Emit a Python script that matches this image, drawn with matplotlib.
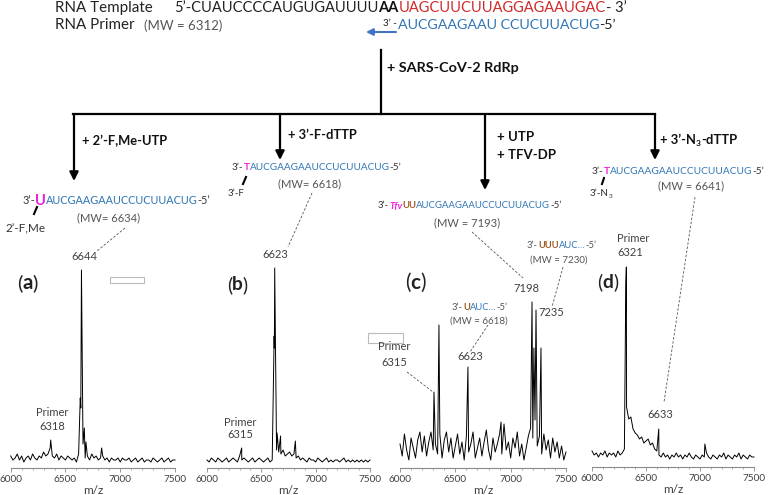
import matplotlib.pyplot as plt
import numpy as np
from matplotlib.patches import Rectangle

plt.rcParams['font.family'] = ['Lato', 'DejaVu Sans']

BLUE = '#2f75b5'
RED = '#d12a2a'
MAG = '#f21fe0'
BROWN = '#a05a22'
GRAY = '#555555'
DARK = '#333333'

# --- spectra: baseline read every 20 m/z, plus the peaks ---
mz_grid = np.arange(6000, 7501, 20)

noise_a = [6, 4, 5, 7, 4, 6, 3, 5, 6, 4,
           7, 5, 4, 6, 5, 8, 6, 7, 10, 6,
           5, 7, 4, 6, 5, 4, 6, 5, 4, 5,
           3, 7, 30, 12, 5, 6, 4, 7, 5, 6,
           4, 5, 6, 4, 5, 3, 5, 4, 4, 5,
           3, 5, 4, 4, 5, 3, 4, 5, 3, 4,
           5, 3, 4, 4, 3, 5, 4, 3, 4, 5,
           3, 4, 5, 3, 4, 4]
peak_mz_a = [6365, 6635, 6646, 6672, 6687, 6830]
peak_int_a = [14, 35, 99, 20, 13, 10]

noise_b = [4, 3, 5, 4, 3, 5, 4, 3, 4, 5,
           3, 4, 5, 4, 3, 6, 4, 5, 4, 3,
           4, 5, 3, 4, 5, 4, 3, 4, 5, 3,
           4, 60, 9, 8, 7, 9, 6, 7, 8, 6,
           7, 5, 6, 4, 5, 4, 3, 5, 4, 4,
           3, 5, 4, 3, 4, 5, 3, 4, 3, 4,
           4, 3, 4, 5, 3, 4, 3, 4, 3, 4,
           3, 4, 3, 4, 3, 4]
peak_mz_b = [6319, 6618, 6623, 6645, 6677, 6813]
peak_int_b = [10, 66, 100, 17.5, 16, 13.5]

noise_c = [12, 6, 17, 9, 4, 15, 10, 5, 14, 18,
           8, 16, 6, 13, 18, 9, 12, 7, 17, 5,
           14, 18, 8, 15, 5, 11, 17, 7, 13, 4,
           16, 8, 12, 18, 5, 10, 15, 6, 13, 19,
           9, 4, 15, 8, 12, 17, 7, 22, 9, 13,
           5, 15, 10, 18, 6, 12, 4, 10, 16, 20,
           15, 24, 11, 16, 7, 17, 9, 14, 5, 15,
           8, 13, 5, 11, 4, 8]
peak_mz_c = [6307, 6352, 6614, 6913, 7193, 7210, 7229, 7274]
peak_int_c = [38, 71.5, 50.5, 23, 83, 60, 79, 60]

noise_d = [8, 6, 7, 5, 7, 6, 8, 5, 7, 6,
           7, 5, 8, 6, 7, 9, 30, 24, 25, 19,
           17, 16, 14, 15, 12, 13, 14, 11, 12, 9,
           8, 6, 5, 7, 5, 6, 4, 6, 5, 7,
           5, 6, 4, 6, 5, 7, 5, 4, 6, 5,
           4, 6, 5, 7, 5, 4, 6, 5, 4, 6,
           5, 7, 4, 6, 5, 4, 6, 5, 7, 4,
           6, 5, 4, 6, 5, 5]
peak_mz_d = [6313, 6318, 6330, 6618, 7045]
peak_int_d = [91, 100, 27, 19, 11.5]

fig = plt.figure(figsize=(7.68, 4.95), dpi=100)
bg = fig.add_axes([0, 0, 1, 1])
bg.set_xlim(0, 768)
bg.set_ylim(495, 0)
bg.axis('off')
R = fig.canvas.get_renderer()


def P(s, c=DARK, b=False, i=False, sc=1.0, dy=0):
    return dict(s=s, c=c, b=b, i=i, sc=sc, dy=dy)


def _kw(p, size):
    return dict(fontsize=size * p['sc'], fontweight='bold' if p['b'] else 'normal',
                fontstyle='italic' if p['i'] else 'normal')


def pieces(x, y, parts, size, width=None, ha='left'):
    # draws coloured pieces one after another, optionally scaled to a pixel width
    def total(sz):
        w = 0
        for p in parts:
            t = bg.text(0, 0, p['s'], **_kw(p, sz))
            w += t.get_window_extent(R).width
            t.remove()
        return w
    if width:
        size = size * width / total(size)
    if ha == 'center':
        x = x - total(size) / 2
    cx = x
    for p in parts:
        t = bg.text(cx, y + p['dy'], p['s'], color=p['c'], va='center', ha='left', **_kw(p, size))
        cx += t.get_window_extent(R).width


def txt(x, y, s, size, width=None, color=DARK, bold=False, ha='left'):
    pieces(x, y, [P(s, color, bold)], size, width, ha)


def dash(x0, y0, x1, y1):
    bg.plot([x0, x1], [y0, y1], color=GRAY, lw=0.6, ls=(0, (3, 2)))


def arrow(x, y0, y1, color='k', lw=1.6):
    bg.annotate('', xy=(x, y1), xytext=(x, y0),
                arrowprops=dict(arrowstyle='-|>', lw=lw, color=color,
                                mutation_scale=13, shrinkA=0, shrinkB=0))


# --- header ---
txt(55, 8, 'RNA Template', 10.5, 98, '#222222')
pieces(174, 8, [P('5’-CUAUCCCCAUGUGAUUUU', '#222222'), P('AA', '#111111', b=True),
                P('UAGCUUCUUAGGAGAAUGAC', RED), P('- 3’', '#222222')], 10.5, 453)
txt(55, 25, 'RNA Primer', 10.5, 80, '#222222')
txt(144, 26, '(MW = 6312)', 8.5, 78, GRAY)
txt(383, 24, '3’ -', 7, 14, '#222222')
pieces(398, 25, [P('AUCGAAGAAU CCUCUUACUG', BLUE), P('-5’', '#222222')], 10.5, 222)
bg.annotate('', xy=(366, 32), xytext=(396, 32),
            arrowprops=dict(arrowstyle='-|>', lw=1.5, color='#4472c4',
                            mutation_scale=10, shrinkA=0, shrinkB=0))

# --- reaction tree ---
bg.plot([381, 381], [50, 114], 'k', lw=1.6)
bg.plot([73, 655], [114, 114], 'k', lw=1.6, solid_capstyle='projecting')
arrow(74, 114, 181)
arrow(280, 114, 160)
arrow(485, 114, 190)
arrow(655, 114, 160)

txt(387, 68, '+ SARS-CoV-2 RdRp', 9.5, 133, '#111111', True)
txt(82, 141, '+ 2’-F,Me-UTP', 9.5, 86, '#111111', True)
txt(288, 135, '+ 3’-F-dTTP', 9.5, 69, '#111111', True)
txt(497, 137, '+ UTP', 9.5, None, '#111111', True)
txt(497, 155, '+ TFV-DP', 9.5, None, '#111111', True)
pieces(660, 140, [P('+ 3’-N', '#111111', True), P('3', '#111111', True, sc=0.65, dy=3),
                  P('-dTTP', '#111111', True)], 9.5, 77)

# --- products ---
seq = 'AUCGAAGAAUCCUCUUACUG'
pieces(22, 201, [P('3’-'), P('U', MAG, True, sc=1.35), P(seq, BLUE), P('-5’')], 8, 188)
txt(77, 218, '(MW= 6634)', 8, None, GRAY)
txt(5, 229, '2’-F,Me', 8, 40)
bg.plot([34, 37], [214, 207], 'k', lw=1.5)

pieces(232, 168, [P('3’-'), P('T', MAG, True), P(seq, BLUE), P('-5’')], 8, 168)
txt(278, 184, '(MW= 6618)', 8, None, GRAY)
txt(228, 194, '3’-F', 7, 17)
bg.plot([243, 246], [184, 177], 'k', lw=1.5)

pieces(378, 206, [P('3’-'), P('Tfv', MAG, True, True), P('UU', BROWN, True), P(seq, BLUE),
                  P('-5’')], 8, 184)
txt(434, 223, '(MW = 7193)', 8, None, GRAY)

pieces(592, 172, [P('3’-'), P('T', MAG, True), P(seq, BLUE), P('-5’')], 8, 170)
txt(658, 186, '(MW = 6641)', 8, None, GRAY)
pieces(590, 194, [P('3’-N'), P('3', sc=0.65, dy=2)], 7, 23)
bg.plot([602, 604], [184, 178], 'k', lw=1.5)

# --- peak annotations ---
LAB = '#404040'
txt(84, 257, '6644', 8, None, LAB, ha='center')
txt(52, 413, 'Primer', 8, None, LAB, ha='center')
txt(52, 426, '6318', 8, None, LAB, ha='center')

txt(275, 255, '6623', 8, None, LAB, ha='center')
txt(240, 422, 'Primer', 8, None, LAB, ha='center')
txt(240, 435, '6315', 8, None, LAB, ha='center')

txt(394, 347, 'Primer', 8, None, LAB, ha='center')
txt(394, 362, '6315', 8, None, LAB, ha='center')
txt(470, 357, '6623', 8, None, LAB, ha='center')
txt(526, 288, '7198', 8, None, LAB, ha='center')
txt(551, 313, '7235', 8, None, LAB, ha='center')
pieces(452, 308, [P('3’-', GRAY), P('U', BROWN, True), P('AUC…', BLUE), P('-5’', GRAY)], 7, 56)
txt(450, 321, '(MW = 6618)', 7, None, GRAY)
pieces(527, 246, [P('3’-', GRAY), P('UUU', BROWN, True), P('AUC…', BLUE), P('-5’', GRAY)], 7, 70)
txt(530, 260, '(MW = 7230)', 7, None, GRAY)

txt(617, 239, 'Primer', 8, None, LAB)
txt(617, 252, '6321', 8, None, LAB)
txt(660, 414, '6633', 8, None, LAB, ha='center')

for lx, ly, l in [(17, 283, 'a'), (227, 285, 'b'), (405, 283, 'c'), (597, 282, 'd')]:
    pieces(lx, ly, [P('(', '#222222'), P(l, '#222222', True), P(')', '#222222')], 11, 21)

dash(125, 228, 97, 251)
dash(312, 193, 288, 247)
dash(472, 232, 523, 278)
dash(563, 267, 552, 307)
dash(488, 325, 470, 352)
dash(407, 372, 433, 392)
dash(695, 197, 664, 402)

bg.add_patch(Rectangle((110, 277), 34, 6, fill=False, ec='#bbbbbb', lw=0.8))
bg.add_patch(Rectangle((368, 333), 35, 10, fill=False, ec='#bbbbbb', lw=0.8))

# --- spectra panels ---
panels = [
    (10.7, 164.3, 468, noise_a, peak_mz_a, peak_int_a),
    (207, 163, 468, noise_b, peak_mz_b, peak_int_b),
    (400, 166, 468, noise_c, peak_mz_c, peak_int_c),
    (592, 162, 467, noise_d, peak_mz_d, peak_int_d),
]
for left, width, bottom, noise, pmz, pint in panels:
    ax = fig.add_axes([left / 768, 1 - bottom / 495, width / 768, 200 / 495])
    ax.patch.set_visible(False)
    mz = np.concatenate([mz_grid, pmz])
    inten = np.concatenate([noise, pint])
    order = np.argsort(mz, kind='stable')
    ax.plot(mz[order], inten[order], color='k', lw=0.7, clip_on=False)
    ax.set_xlim(6000, 7500)
    ax.set_ylim(0, 100)
    for s in ['left', 'right', 'top']:
        ax.spines[s].set_visible(False)
    ax.spines['bottom'].set_color('#8a8a8a')
    ax.spines['bottom'].set_linewidth(0.8)
    ax.set_yticks([])
    ax.set_xticks([6000, 6500, 7000, 7500])
    ax.set_xticks(np.arange(6000, 7501, 100), minor=True)
    ax.tick_params(axis='x', which='major', length=3, width=0.6, color='#8a8a8a',
                   labelsize=7.2, labelcolor='#404040', pad=2)
    ax.tick_params(axis='x', which='minor', length=1.5, width=0.5, color='#8a8a8a')
    ax.set_xlabel('m/z', fontsize=8.5, color='#404040', labelpad=1)

fig.savefig('out.png', dpi=100)
